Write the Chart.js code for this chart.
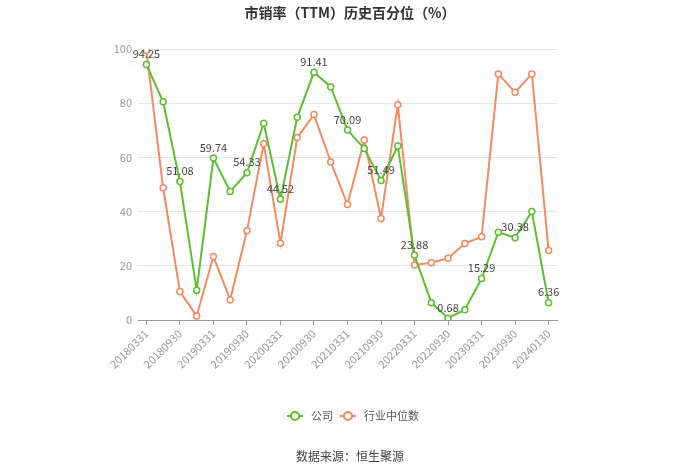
<!DOCTYPE html>
<html><head><meta charset="utf-8">
<script src="https://cdn.jsdelivr.net/npm/chart.js@4/dist/chart.umd.min.js"></script>
<style>html,body{margin:0;padding:0;background:#fff}#wrap{width:700px;height:473px}</style>
</head><body><div id="wrap"><canvas id="c" width="700" height="473"></canvas></div>
<script>
const categories = ["20180331","20180630","20180930","20181231","20190331","20190630","20190930","20191231","20200331","20200630","20200930","20201231","20210331","20210630","20210930","20211231","20220331","20220630","20220930","20221231","20230331","20230630","20230930","20231231","20240130"];
const companyValues = [94.25,80.5,51.08,11.0,59.74,47.4,54.33,72.6,44.52,74.8,91.41,86.0,70.09,63.3,51.49,64.2,23.88,6.4,0.68,3.8,15.29,32.4,30.38,40.0,6.36];
const industryValues = [99.5,48.8,10.5,1.5,23.4,7.5,32.9,65.0,28.3,67.3,75.8,58.3,42.6,66.4,37.5,79.4,20.3,21.1,22.8,28.2,30.7,90.8,84.0,90.8,25.6];
const seriesNames = ["公司","行业中位数"];
const labeledIdx = [0,2,4,6,8,10,12,14,16,18,20,22,24];
const yTicks = [0,20,40,60,80,100];
const titleText = "市销率（TTM）历史百分位（%）";
const sourceText = "数据来源：恒生聚源";

const GREEN = "#5cbf2f", ORANGE = "#f58a62";
const FONT = "'Noto Sans CJK SC', 'Noto Sans', sans-serif";

const overlay = {
  id: 'overlay',
  afterDatasetsDraw(chart) {
    const ctx = chart.ctx;
    const meta = chart.getDatasetMeta(0);
    ctx.save();
    ctx.font = "11px " + FONT;
    ctx.fillStyle = "#444";
    ctx.textAlign = "center";
    ctx.textBaseline = "bottom";
    labeledIdx.forEach(i => {
      const p = meta.data[i];
      ctx.fillText(companyValues[i].toFixed(2), p.x, p.y - 5);
    });
    ctx.restore();
  },
  afterDraw(chart) {
    const ctx = chart.ctx;
    ctx.save();
    // title
    ctx.font = "bold 14px " + FONT;
    ctx.fillStyle = "#333";
    ctx.textAlign = "center";
    ctx.textBaseline = "middle";
    ctx.fillText(titleText, 350, 13);
    // legend
    const drawIcon = (x, y, color) => {
      ctx.strokeStyle = color; ctx.lineWidth = 2;
      ctx.beginPath(); ctx.moveTo(x, y); ctx.lineTo(x + 16, y); ctx.stroke();
      ctx.fillStyle = "#fff";
      ctx.beginPath(); ctx.arc(x + 8, y, 4, 0, Math.PI * 2); ctx.fill(); ctx.stroke();
    };
    ctx.font = "11px " + FONT;
    ctx.textAlign = "left";
    ctx.textBaseline = "middle";
    drawIcon(287, 416, GREEN);
    ctx.fillStyle = "#555"; ctx.fillText(seriesNames[0], 311, 416);
    drawIcon(340, 416, ORANGE);
    ctx.fillStyle = "#555"; ctx.fillText(seriesNames[1], 364, 416);
    // source
    ctx.font = "12px " + FONT;
    ctx.textAlign = "center";
    ctx.fillStyle = "#444";
    ctx.fillText(sourceText, 350, 456);
    ctx.restore();
  }
};

new Chart(document.getElementById('c'), {
  type: 'line',
  data: {
    labels: categories,
    datasets: [
      { label: seriesNames[0], data: companyValues, borderColor: GREEN, backgroundColor: "#fff",
        borderWidth: 2, pointRadius: 3, pointBorderWidth: 1.5, pointBackgroundColor: "#fff", tension: 0 },
      { label: seriesNames[1], data: industryValues, borderColor: ORANGE, backgroundColor: "#fff",
        borderWidth: 2, pointRadius: 3, pointBorderWidth: 1.5, pointBackgroundColor: "#fff", tension: 0 }
    ]
  },
  options: {
    responsive: false,
    animation: false,
    layout: { padding: { left: 98, right: 143, top: 49, bottom: 103 } },
    plugins: { legend: { display: false }, title: { display: false }, tooltip: { enabled: false } },
    scales: {
      x: {
        type: 'category',
        offset: true,
        afterFit(s) { s.height = 50; },
        border: { display: true, color: "#999", width: 1 },
        grid: { offset: false, drawOnChartArea: false, drawTicks: true, tickLength: 5,
                color: (c) => (c.index % 2 === 0 ? "#999" : "rgba(0,0,0,0)") },
        ticks: { autoSkip: false, maxRotation: 45, minRotation: 45, color: "#999",
                 font: { size: 11, family: FONT }, padding: 2,
                 callback: function(v, i) { return i % 2 === 0 ? categories[i] : ""; } }
      },
      y: {
        min: 0, max: 100,
        afterFit(s) { s.width = 40; },
        afterBuildTicks(s) { s.ticks = yTicks.map(v => ({ value: v })); },
        border: { display: false },
        grid: { color: "#e6e6e6", drawTicks: false },
        ticks: { color: "#999", font: { size: 11, family: FONT }, padding: 6 }
      }
    }
  },
  plugins: [overlay]
});
</script>
</body></html>
